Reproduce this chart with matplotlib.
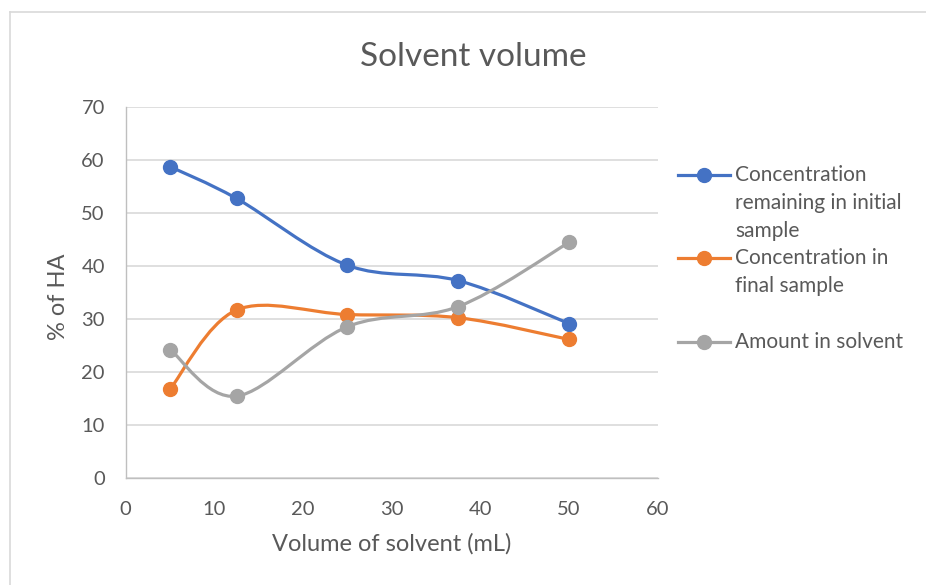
import numpy as np
import matplotlib
matplotlib.use("Agg")
import matplotlib.pyplot as plt
from matplotlib.path import Path
from matplotlib.patches import PathPatch
from matplotlib.lines import Line2D

# Solvent volumes tested (mL)
volume = [5, 12.5, 25, 37.5, 50]

# % of HA for each series
remaining_initial = [58.8, 52.8, 40.2, 37.3, 29.2]
final_sample = [16.8, 31.75, 30.9, 30.3, 26.2]
in_solvent = [24.3, 15.5, 28.6, 32.4, 44.5]

series_names = [
    "Concentration\nremaining in initial\nsample",
    "Concentration in\nfinal sample",
    "Amount in solvent",
]
series_colors = ["#4472C4", "#ED7D31", "#A5A5A5"]

x_ticks = [0, 10, 20, 30, 40, 50, 60]
y_ticks = [0, 10, 20, 30, 40, 50, 60, 70]

TEXT = "#595959"
GRID = "#D9D9D9"
FONT = "Lato"
W, H = 926, 585

plt.rcParams["font.family"] = [FONT, "DejaVu Sans"]


def smooth_path(xs, ys):
    """Catmull-Rom style cubic Bezier through the points (spreadsheet 'smoothed line')."""
    pts = np.column_stack([xs, ys]).astype(float)
    n = len(pts)
    verts = [pts[0]]
    codes = [Path.MOVETO]
    for i in range(n - 1):
        p0 = pts[i - 1] if i > 0 else pts[i]
        p1 = pts[i]
        p2 = pts[i + 1]
        p3 = pts[i + 2] if i + 2 < n else pts[i + 1]
        c1 = p1 + (p2 - p0) / 6.0
        c2 = p2 - (p3 - p1) / 6.0
        verts += [c1, c2, p2]
        codes += [Path.CURVE4] * 3
    return Path(verts, codes)


def fx(px):
    return px / W


def fy(py):
    return 1 - py / H


fig = plt.figure(figsize=(W / 100, H / 100), dpi=100)
fig.patch.set_facecolor("white")

# light outer frame of the chart area
fig.add_artist(Line2D([fx(9.5), fx(9.5)], [0, fy(11.5)],
                      transform=fig.transFigure, color=GRID, lw=1.2))
fig.add_artist(Line2D([fx(9.5), 1], [fy(11.5), fy(11.5)],
                      transform=fig.transFigure, color=GRID, lw=1.2))

ax = fig.add_axes([fx(125.7), 106.7 / H, 532 / W, 371 / H])
ax.set_xlim(0, 60)
ax.set_ylim(0, 70)
ax.set_xticks(x_ticks)
ax.set_yticks(y_ticks)

for s in ["top", "right"]:
    ax.spines[s].set_visible(False)
for s in ["left", "bottom"]:
    ax.spines[s].set_color("#BFBFBF")
    ax.spines[s].set_linewidth(1.0)

ax.yaxis.grid(True, color=GRID, lw=1.2)
ax.set_axisbelow(True)
ax.tick_params(axis="both", length=0, labelsize=14.5, labelcolor=TEXT)
ax.tick_params(axis="y", pad=15)
ax.tick_params(axis="x", pad=16)

all_series = [remaining_initial, final_sample, in_solvent]
for ys, c in zip(all_series, series_colors):
    ax.add_patch(PathPatch(smooth_path(volume, ys), facecolor="none",
                           edgecolor=c, lw=2.3, capstyle="round", zorder=3))
    ax.plot(volume, ys, linestyle="none", marker="o", markersize=10,
            color=c, zorder=4)

fig.text(fx(473), fy(66), "Solvent volume", fontsize=24, color=TEXT,
         ha="center", va="baseline")

ax.set_xlabel("Volume of solvent (mL)", fontsize=17, color=TEXT)
ax.xaxis.label.set_va("center")
ax.xaxis.set_label_coords(0.5, (478.3 - 544) / 371)
ax.set_ylabel("% of HA", fontsize=17, color=TEXT)
ax.yaxis.label.set_va("center")
ax.yaxis.set_label_coords((58.5 - 125.7) / 532, (478.3 - 297) / 371)

# legend entries, each handle aligned with the first line of its label
legend_rows = [175, 258, 342]
line_step = 28
for name, c, row in zip(series_names, series_colors, legend_rows):
    fig.add_artist(Line2D([fx(678), fx(730)], [fy(row), fy(row)],
                          transform=fig.transFigure, color=c, lw=2.3))
    fig.add_artist(Line2D([fx(704)], [fy(row)], transform=fig.transFigure,
                          color=c, marker="o", markersize=10, linestyle="none"))
    for k, part in enumerate(name.split("\n")):
        fig.text(fx(735), fy(row + k * line_step), part, fontsize=15,
                 color=TEXT, va="center", ha="left")

fig.savefig("out.png", dpi=100, facecolor="white")
